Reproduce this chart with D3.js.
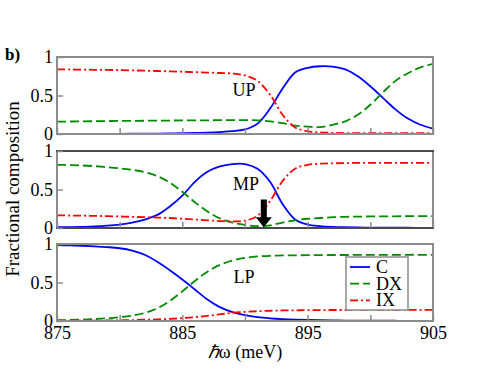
<!DOCTYPE html>
<html><head><meta charset="utf-8">
<script src="https://cdn.jsdelivr.net/npm/d3@7"></script>
<style>body{margin:0;background:#fff}svg{display:block}text{font-family:"Liberation Serif","Times New Roman",serif;fill:#000}</style>
</head><body>
<script>
const energy = d3.range(875, 906, 1);
const C_UP  = [0,0,0,0,0.001,0.002,0.003,0.004,0.006,0.008,0.011,0.014,0.018,0.025,0.036,0.06,0.135,0.33,0.59,0.80,0.86,0.88,0.875,0.84,0.75,0.62,0.47,0.32,0.20,0.12,0.07];
const DX_UP = [0.16,0.162,0.164,0.166,0.168,0.17,0.171,0.172,0.174,0.175,0.176,0.177,0.178,0.179,0.18,0.18,0.178,0.165,0.14,0.11,0.095,0.09,0.12,0.165,0.25,0.38,0.54,0.69,0.79,0.865,0.91];
const IX_UP = [0.84,0.838,0.836,0.834,0.832,0.83,0.826,0.822,0.818,0.813,0.808,0.803,0.798,0.792,0.785,0.76,0.69,0.51,0.25,0.085,0.035,0.02,0.015,0.012,0.01,0.01,0.01,0.01,0.01,0.01,0.01];
const C_MP  = [0.01,0.012,0.015,0.02,0.03,0.045,0.07,0.11,0.17,0.28,0.42,0.60,0.73,0.80,0.83,0.83,0.77,0.60,0.31,0.11,0.045,0.025,0.015,0.01,0.007,0.005,0.004,0.003,0.003,0.002,0.002];
const DX_MP = [0.82,0.818,0.812,0.803,0.79,0.775,0.755,0.725,0.675,0.59,0.47,0.335,0.215,0.125,0.07,0.04,0.024,0.035,0.07,0.10,0.12,0.13,0.14,0.145,0.148,0.15,0.151,0.152,0.153,0.154,0.155];
const IX_MP = [0.165,0.162,0.16,0.157,0.154,0.15,0.145,0.14,0.135,0.13,0.12,0.11,0.10,0.09,0.085,0.095,0.16,0.35,0.61,0.77,0.82,0.835,0.84,0.843,0.845,0.845,0.845,0.845,0.845,0.845,0.845];
const C_LP  = [0.985,0.982,0.977,0.97,0.96,0.945,0.915,0.86,0.77,0.66,0.54,0.41,0.28,0.18,0.115,0.075,0.05,0.035,0.025,0.018,0.013,0.01,0.008,0.006,0.005,0.004,0.003,0.003,0.002,0.002,0.002];
const DX_LP = [0.01,0.013,0.018,0.025,0.035,0.05,0.07,0.105,0.165,0.26,0.385,0.52,0.64,0.73,0.785,0.82,0.838,0.847,0.851,0.853,0.855,0.856,0.857,0.857,0.858,0.858,0.859,0.859,0.86,0.86,0.86];
const IX_LP = [0.003,0.003,0.004,0.005,0.007,0.009,0.012,0.016,0.021,0.028,0.037,0.05,0.067,0.087,0.105,0.118,0.127,0.133,0.137,0.139,0.141,0.142,0.143,0.143,0.144,0.144,0.145,0.145,0.145,0.145,0.145];
const panelNames = ["UP", "MP", "LP"];
const seriesNames = ["C", "DX", "IX"];
const xTicks = [875, 880, 885, 890, 895, 900, 905];
const xTickLabels = ["875", "", "885", "", "895", "", "905"];
const yTicks = [0, 0.5, 1];
const yTickLabels = ["0", "0.5", "1"];
const arrowE = 891.5, arrowFrom = 0.37, arrowTo = 0.01;

const panelData = [[C_UP, DX_UP, IX_UP], [C_MP, DX_MP, IX_MP], [C_LP, DX_LP, IX_LP]];
const colors = ["#0000ff", "#008c00", "#ff0000"];
const dashes = [null, "9,4", "8,3,2,3"];

const W = 491, H = 379;
const svg = d3.select("body").append("svg").attr("width", W).attr("height", H);
const x = d3.scaleLinear().domain([875, 905]).range([57, 433]);
const panelTops = [57, 151, 244], panelH = 77;
const labelPos = [[244, 96], [246, 190], [244, 283]];

panelData.forEach((series, pi) => {
  const top = panelTops[pi];
  const y = d3.scaleLinear().domain([0, 1]).range([top + panelH, top]);
  const g = svg.append("g");
  const clipId = "clip" + pi;
  svg.append("clipPath").attr("id", clipId).append("rect").attr("x", 57).attr("y", top - 1).attr("width", 376).attr("height", panelH + 2);
  series.forEach((vals, si) => {
    const line = d3.line().x((d, i) => x(energy[i])).y(d => y(d)).curve(d3.curveCatmullRom.alpha(0.5));
    g.append("path").attr("d", line(vals)).attr("fill", "none")
      .attr("stroke", colors[si]).attr("stroke-width", 1.8)
      .attr("stroke-dasharray", dashes[si]).attr("clip-path", `url(#${clipId})`);
  });
  g.append("rect").attr("x", 57).attr("y", top).attr("width", 376).attr("height", panelH)
    .attr("fill", "none").attr("stroke", "#8c8c8c").attr("stroke-width", 2);
  if (pi === 1) {
    g.append("line").attr("x1", 56).attr("x2", 434).attr("y1", top).attr("y2", top).attr("stroke", "#333").attr("stroke-width", 1.5);
    g.append("line").attr("x1", 56).attr("x2", 434).attr("y1", top + panelH).attr("y2", top + panelH).attr("stroke", "#333").attr("stroke-width", 1.5);
  }
  const ya = g.append("g").attr("transform", "translate(57,0)")
    .call(d3.axisLeft(y).tickValues(yTicks).tickFormat((d, i) => yTickLabels[i]).tickSizeInner(-6).tickSizeOuter(0).tickPadding(4));
  ya.attr("font-family", null).attr("font-size", null);
  ya.select(".domain").remove();
  ya.selectAll("line").attr("stroke", "#8c8c8c").attr("stroke-width", 1.5);
  ya.selectAll("text").style("font-family", "'Liberation Serif', serif").style("font-size", "18px").attr("fill", "#000");
  const xa = g.append("g").attr("transform", `translate(0,${top + panelH})`)
    .call(d3.axisBottom(x).tickValues(xTicks).tickFormat((d, i) => pi === 2 ? xTickLabels[i] : "").tickSizeInner(-6).tickSizeOuter(0).tickPadding(5));
  xa.attr("font-family", null).attr("font-size", null);
  xa.select(".domain").remove();
  xa.selectAll("line").attr("stroke", "#8c8c8c").attr("stroke-width", 1.5);
  xa.selectAll("text").style("font-family", "'Liberation Serif', serif").style("font-size", "18px").attr("fill", "#000");
  g.append("text").attr("x", labelPos[pi][0]).attr("y", labelPos[pi][1]).attr("text-anchor", "middle")
    .style("font-size", "18px").text(panelNames[pi]);
  if (pi === 1) {
    const ax = x(arrowE), y0 = y(arrowFrom), y1 = y(arrowTo);
    const hw = 8, sw = 3, hl = 10;
    g.append("path").attr("fill", "#000")
      .attr("d", `M${ax - sw},${y0}L${ax + sw},${y0}L${ax + sw},${y1 - hl}L${ax + hw},${y1 - hl}L${ax},${y1}L${ax - hw},${y1 - hl}L${ax - sw},${y1 - hl}Z`);
  }
  if (pi === 2) {
    const lg = g.append("g");
    lg.append("rect").attr("x", 346).attr("y", 257).attr("width", 62).attr("height", 53)
      .attr("fill", "#fff").attr("stroke", "#8c8c8c").attr("stroke-width", 1.5);
    seriesNames.forEach((nm, si) => {
      const ly = 267 + si * 16.7;
      lg.append("line").attr("x1", 350).attr("x2", 370).attr("y1", ly).attr("y2", ly)
        .attr("stroke", colors[si]).attr("stroke-width", 1.8).attr("stroke-dasharray", dashes[si]);
      lg.append("text").attr("x", 376).attr("y", ly + 6).style("font-size", "18px").text(nm);
    });
  }
});

svg.append("text").attr("x", 5).attr("y", 60).style("font-size", "17px").style("font-weight", "bold").text("b)");
svg.append("text").attr("transform", "translate(19,189) rotate(-90)").attr("text-anchor", "middle")
  .style("font-size", "19px").text("Fractional composition");
const xl = svg.append("text").attr("x", 245).attr("y", 358).attr("text-anchor", "middle").style("font-size", "18px");
xl.append("tspan").style("font-style", "italic").text("ℏ");
xl.append("tspan").text("ω (meV)");
</script>
</body></html>
